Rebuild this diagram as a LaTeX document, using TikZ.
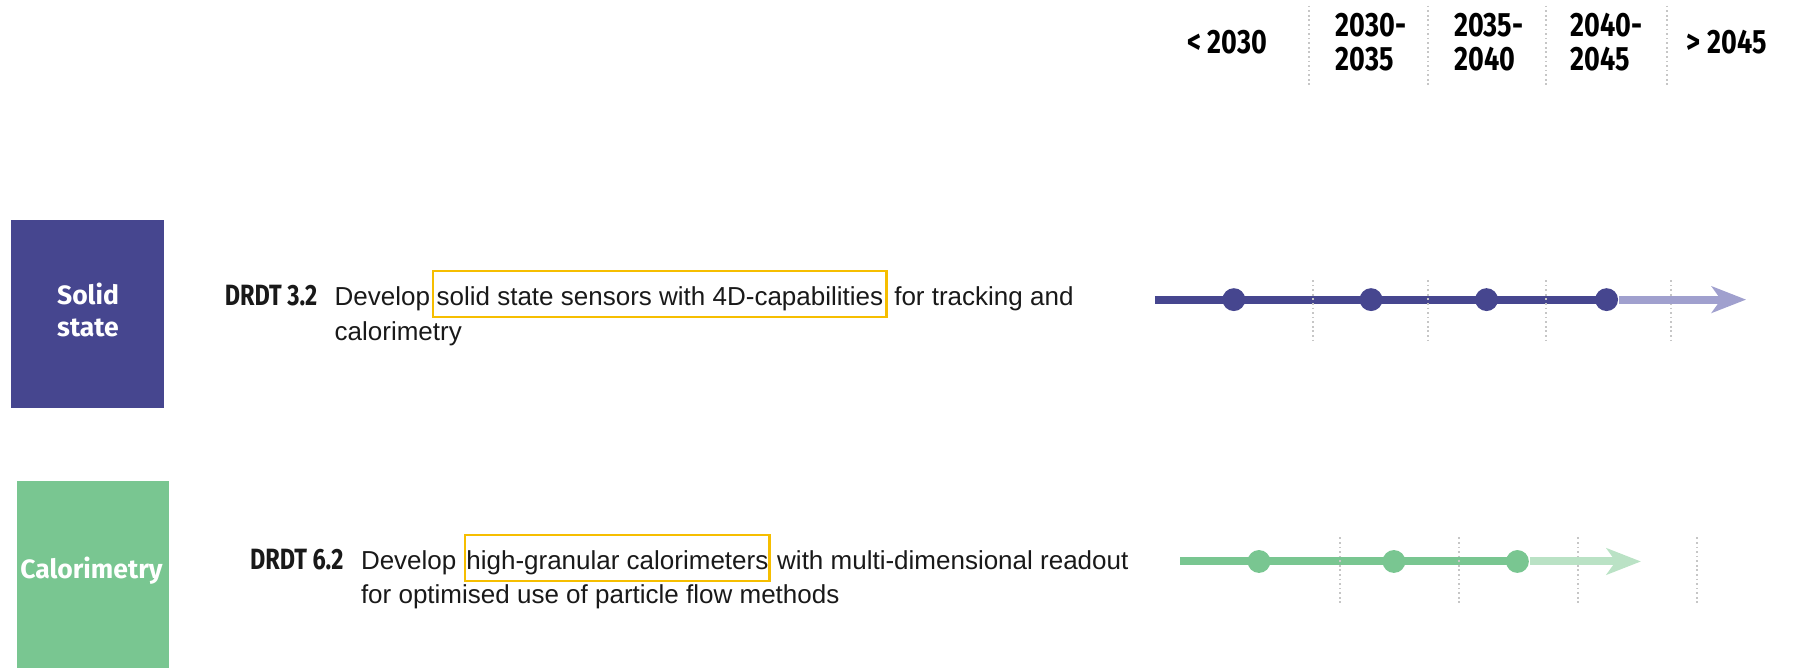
\documentclass[tikz,border=0pt]{standalone}
\usepackage{fontspec}
\setmainfont{Liberation Sans}
\newfontfamily\headfont[FakeStretch=0.8]{Fira Sans}
\newfontfamily\boxfont{Fira Sans}
\usetikzlibrary{calc,arrows.meta,backgrounds}

\definecolor{solidc}{RGB}{70,70,143}
\definecolor{solidfade}{RGB}{160,160,206}
\definecolor{calc}{RGB}{121,198,145}
\definecolor{calfade}{RGB}{186,226,197}
\definecolor{hlc}{RGB}{246,190,0}
\definecolor{gridc}{RGB}{198,198,198}
\definecolor{inkc}{RGB}{25,25,25}

\begin{document}
\begin{tikzpicture}[x=0.1mm,y=-0.1mm,
  body/.style={font=\fontsize{6.47}{8.5}\selectfont, text=inkc, inner sep=0pt, anchor=base west},
  hl/.style={body, draw=hlc, line width=0.2mm, inner xsep=0.3mm, inner ysep=0.6mm,
             text height=2.4mm, text depth=0.4mm},
  code/.style={font=\headfont\bfseries\fontsize{7.3}{8.5}\selectfont, text=inkc, inner sep=0pt, anchor=base west},
  year/.style={font=\headfont\bfseries\fontsize{8.4}{8.5}\selectfont, text=black, align=left, inner sep=0pt},
  area/.style={minimum width=13.3mm, minimum height=16.5mm, inner sep=0pt},
  arealabel/.style={text=white, align=center, inner sep=0pt,
               font=\boxfont\bfseries\fontsize{6.6}{8}\selectfont},
  grid/.style={draw=gridc, line width=0.15mm, dash pattern=on 0.15mm off 0.25mm},
  dot/.style={circle, inner sep=0pt, minimum size=2mm},
  track/.style={line width=0.7mm},
  tip/.style={-{Stealth[length=3mm,width=2.3mm,inset=0.8mm]}}
]
\useasboundingbox (0,0) rectangle (1568,584);

% period headings
\node[year] (y0) at (1073,37) {< 2030};
\node[year] (y1) at (1199,37) {2030-\\2035};
\node[year] (y2) at (1302,37) {2035-\\2040};
\node[year] (y3) at (1405,37) {2040-\\2045};
\node[year] (y4) at (1510,37) {> 2045};
\foreach \x in {1145,1249,1352,1458} \draw[grid] (\x,5) -- (\x,75);

% ---- solid state ----
\node[area, fill=solidc] (solid) at (76.5,274.5) {};
\node[arealabel] (solidlbl) at (77,271) {Solid\\state};
\node[code] (c1) at (196,267) {DRDT 3.2};
\node[body] (d1) at (292,267) {Develop};
\node[hl] (h1) at ($(d1.base east)+(1,0)$) {solid state sensors with 4D-capabilities};
\node[body] (r1) at ($(h1.base east)+(5,0)$) {for tracking and};
\node[body] (l1) at (292,298) {calorimetry};

\foreach \x in {1148,1249,1352,1461} \draw[grid] (\x,245) -- (\x,300);
\coordinate (a1) at (1010,262);
\coordinate (e1) at (1527,262);
\node[dot, fill=solidc] (p11) at (1079,262) {};
\node[dot, fill=solidc] (p12) at (1199,262) {};
\node[dot, fill=solidc] (p13) at (1300,262) {};
\node[dot, fill=solidc] (p14) at (1405,262) {};
\draw[track, solidfade, tip] (p14.east) -- (e1);
\begin{scope}[on background layer]
  \draw[track, solidc] (a1) -- (p11.center) -- (p12.center) -- (p13.center) -- (p14.center);
\end{scope}

% ---- calorimetry ----
\node[area, fill=calc, minimum height=16.3mm] (calo) at (81.5,502.5) {};
\node[arealabel] (calolbl) at (80,499) {Calorimetry};
\node[code] (c2) at (218,498) {DRDT 6.2};
\node[body] (d2) at (315,498) {Develop};
\node[hl, inner xsep=0.1mm] (h2) at ($(d2.base east)+(6,0)$) {high-granular calorimeters};
\node[body] (r2) at ($(h2.base east)+(5,0)$) {with multi-dimensional readout};
\node[body] (l2) at (315,528) {for optimised use of particle flow methods};

\foreach \x in {1172,1276,1380,1484} \draw[grid] (\x,470) -- (\x,528);
\coordinate (a2) at (1032,491);
\coordinate (e2) at (1435,491);
\node[dot, fill=calc] (p21) at (1101,491) {};
\node[dot, fill=calc] (p22) at (1219,491) {};
\node[dot, fill=calc] (p23) at (1327,491) {};
\draw[track, calfade, tip] (p23.east) -- (e2);
\begin{scope}[on background layer]
  \draw[track, calc] (a2) -- (p21.center) -- (p22.center) -- (p23.center);
\end{scope}
\end{tikzpicture}
\end{document}
